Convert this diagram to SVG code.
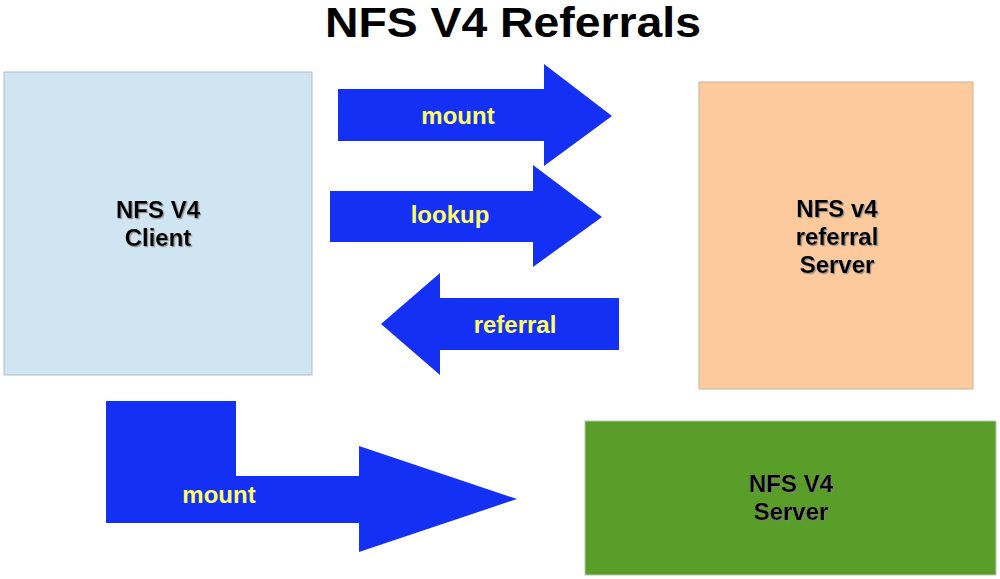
<svg xmlns="http://www.w3.org/2000/svg" width="1000" height="579" viewBox="0 0 1000 579">
<defs>
<filter id="sh" x="-10%" y="-10%" width="120%" height="130%">
<feDropShadow dx="1.2" dy="1.2" stdDeviation="0.6" flood-color="#808080" flood-opacity="0.8"/>
</filter>
</defs>
<style>
.title{font-family:"Liberation Sans",Arial,sans-serif;font-weight:bold;font-size:42px;fill:#000;text-anchor:middle}
.node{font-family:"Liberation Sans",Arial,sans-serif;font-weight:bold;font-size:24px;fill:#000;text-anchor:middle;filter:url(#sh)}
.lbl{font-family:"Liberation Sans",Arial,sans-serif;font-weight:bold;font-size:24px;fill:#ffff66;text-anchor:middle}
.arrow{fill:#1530f5}
</style>
<rect width="1000" height="579" fill="#ffffff"/>
<text class="title" x="513" y="37" textLength="376" lengthAdjust="spacingAndGlyphs">NFS V4 Referrals</text>

<g id="client">
<rect x="4" y="72" width="308" height="303" fill="#cfe5f2" stroke="#b4bcc4" stroke-width="1"/>
<text class="node" x="158" y="218">NFS V4</text>
<text class="node" x="158" y="246">Client</text>
</g>

<g id="referral-server">
<rect x="699" y="82" width="274" height="307" fill="#fcca9c" stroke="#c8b4a0" stroke-width="1"/>
<text class="node" x="837" y="217">NFS v4</text>
<text class="node" x="837" y="245">referral</text>
<text class="node" x="837" y="273">Server</text>
</g>

<g id="nfs-server">
<rect x="585" y="421" width="411" height="154" fill="#5a9e2a" stroke="#b8c8b0" stroke-width="1"/>
<text class="node" x="791" y="492">NFS V4</text>
<text class="node" x="791" y="520">Server</text>
</g>

<g id="connectors">
<g id="arrow-mount">
<polygon class="arrow" points="338,89 544,89 544,64 612,116 544,166 544,141 338,141"/>
<text class="lbl" x="458" y="124">mount</text>
</g>
<g id="arrow-lookup">
<polygon class="arrow" points="330,191 533,191 533,165 602,217 533,267 533,242 330,242"/>
<text class="lbl" x="450" y="223">lookup</text>
</g>
<g id="arrow-referral">
<polygon class="arrow" points="619,298 440,298 440,273 381,324 440,375 440,350 619,350"/>
<text class="lbl" x="515" y="333">referral</text>
</g>
<g id="arrow-mount2">
<polygon class="arrow" points="106,401 236,401 236,476 359,476 359,446 517,499 359,552 359,523 106,523"/>
<text class="lbl" x="219" y="503">mount</text>
</g>
</g>
</svg>
